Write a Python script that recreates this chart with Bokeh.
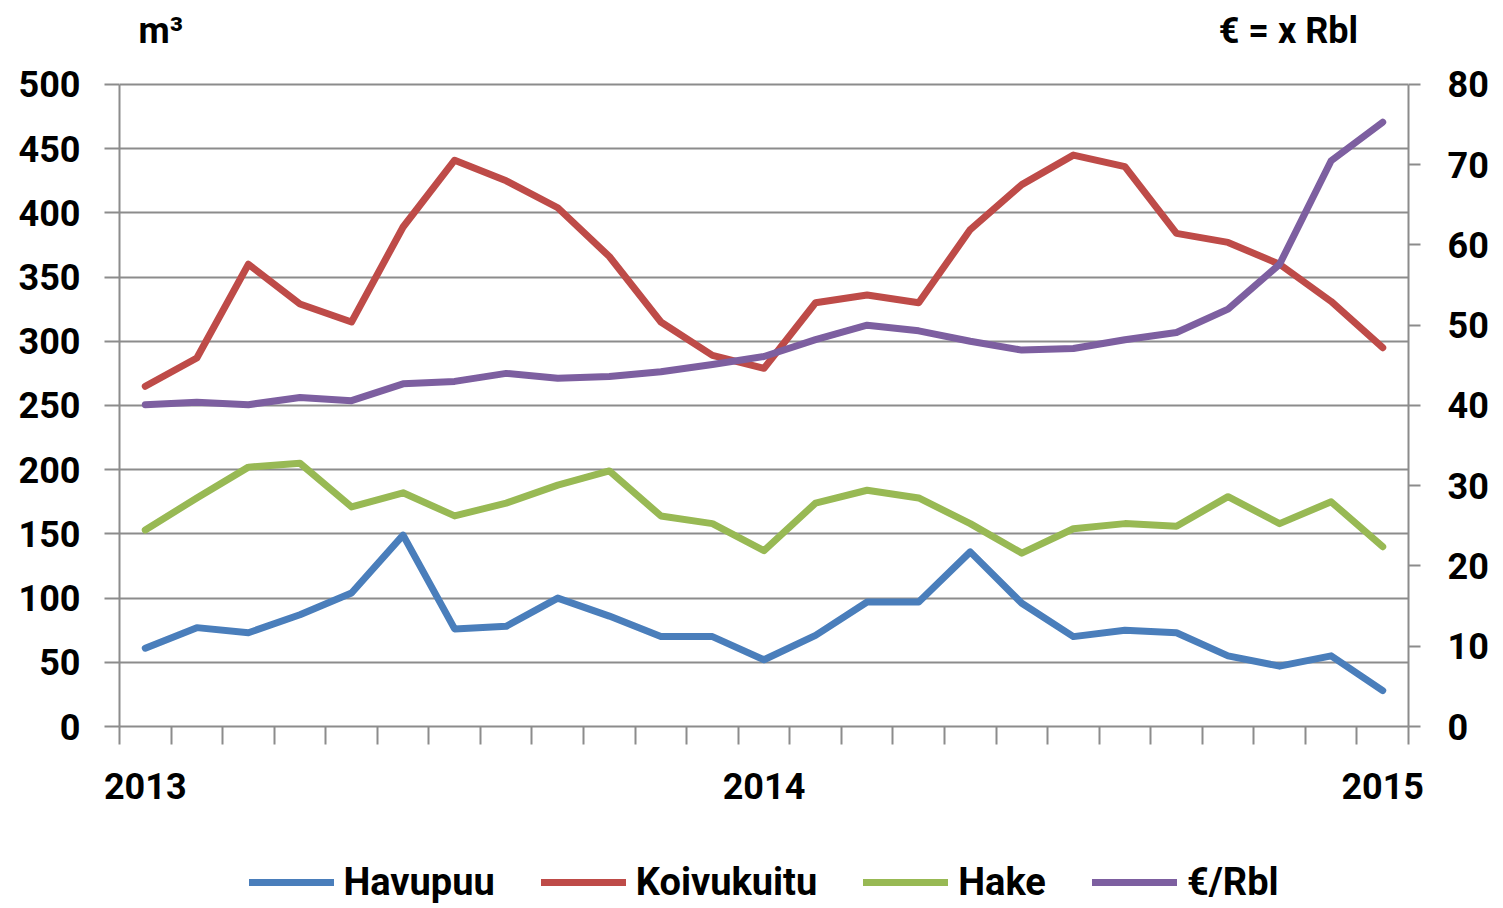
from bokeh.plotting import figure
from bokeh.layouts import column
from bokeh.models import (LinearAxis, Range1d, FixedTicker, Legend, LegendItem, Label)
from bokeh.embed import file_html
from bokeh.resources import INLINE

# ---- data ----
months = list(range(25))  # Jan 2013 .. Jan 2015
year_labels = {0: "2013", 12: "2014", 24: "2015"}
havupuu = [61, 77, 73, 87, 104, 149, 76, 78, 100, 86, 70, 70, 52,
           71, 97, 97, 136, 96, 70, 75, 73, 55, 47, 55, 28]
koivukuitu = [265, 287, 360, 329, 315, 389, 441, 425, 404, 366, 315, 289, 279,
              330, 336, 330, 387, 422, 445, 436, 384, 377, 360, 331, 295]
hake = [153, 178, 202, 205, 171, 182, 164, 174, 188, 199, 164, 158, 137,
        174, 184, 178, 158, 135, 154, 158, 156, 179, 158, 175, 140]
eur_rbl = [40.1, 40.4, 40.1, 41.0, 40.6, 42.7, 43.0, 44.0, 43.4, 43.6, 44.2, 45.1, 46.1,
           48.2, 50.0, 49.3, 48.0, 46.9, 47.1, 48.2, 49.1, 52.0, 57.6, 70.5, 75.3]
series_names = ["Havupuu", "Koivukuitu", "Hake", "€/Rbl"]
colors = ["#4A7EBB", "#BE4B48", "#98B954", "#7D5FA0"]
left_ticks = list(range(0, 501, 50))
right_ticks = list(range(0, 81, 10))
left_unit = "m³"
right_unit = "€ = x Rbl"

FONT = "Roboto"
GRID = "#8C8C8C"
LEFT_MAX = 500
RIGHT_MAX = 80
TOP_PAD = 565.4  # room above the 500 line for the unit labels

main = figure(frame_width=1289, frame_height=726, output_backend="svg", toolbar_location=None,
              x_range=Range1d(-0.5, 24.5), y_range=Range1d(0, TOP_PAD),
              min_border_left=119, min_border_top=0, min_border_right=95, min_border_bottom=130)
main.outline_line_color = None
main.background_fill_color = "white"
main.border_fill_color = "white"

main.extra_y_ranges = {"right": Range1d(0, RIGHT_MAX * TOP_PAD / LEFT_MAX)}

# x axis
xa = main.xaxis[0]
xa.ticker = FixedTicker(ticks=[0, 12, 24], minor_ticks=[i - 0.5 for i in range(26)])
xa.major_label_overrides = {k: v for k, v in year_labels.items()}
xa.major_tick_line_color = None
xa.major_tick_out = 0
xa.major_tick_in = 0
xa.minor_tick_out = 18
xa.minor_tick_in = 0
xa.minor_tick_line_color = GRID
xa.minor_tick_line_width = 2
xa.axis_line_color = GRID
xa.axis_line_width = 2
xa.major_label_text_font = FONT
xa.major_label_text_font_style = "bold"
xa.major_label_text_font_size = "36px"
xa.major_label_text_color = "black"
xa.major_label_standoff = 28

# left axis
ya = main.yaxis[0]
ya.ticker = FixedTicker(ticks=left_ticks)
ya.bounds = (0, LEFT_MAX)
ya.major_tick_out = 15
ya.major_tick_in = 0
ya.minor_tick_line_color = None
ya.major_tick_line_color = GRID
ya.major_tick_line_width = 2
ya.axis_line_color = GRID
ya.axis_line_width = 2
ya.major_label_text_font = FONT
ya.major_label_text_font_style = "bold"
ya.major_label_text_font_size = "36px"
ya.major_label_text_color = "black"
ya.major_label_standoff = 24

# right axis
ra = LinearAxis(y_range_name="right", ticker=FixedTicker(ticks=right_ticks))
ra.bounds = (0, RIGHT_MAX)
ra.major_tick_out = 12
ra.major_tick_in = 0
ra.minor_tick_line_color = None
ra.major_tick_line_color = GRID
ra.major_tick_line_width = 2
ra.axis_line_color = GRID
ra.axis_line_width = 2
ra.major_label_text_font = FONT
ra.major_label_text_font_style = "bold"
ra.major_label_text_font_size = "36px"
ra.major_label_text_color = "black"
ra.major_label_standoff = 27
main.add_layout(ra, "right")

main.xgrid.grid_line_color = None
main.ygrid.ticker = FixedTicker(ticks=left_ticks)
main.ygrid.grid_line_color = GRID
main.ygrid.grid_line_width = 2

all_series = [havupuu, koivukuitu, hake, eur_rbl]
for data, col in zip(all_series[:3], colors[:3]):
    main.line(months, data, line_color=col, line_width=7, line_join="round", line_cap="round")
main.line(months, eur_rbl, line_color=colors[3], line_width=7, line_join="round",
          line_cap="round", y_range_name="right")

main.add_layout(Label(x=0.3, y=542, text=left_unit, text_align="center", text_baseline="middle",
                      text_font=FONT, text_font_style="bold", text_font_size="36px",
                      text_color="black"))
main.add_layout(Label(x=22.17, y=542, text=right_unit, text_align="center", text_baseline="middle",
                      text_font=FONT, text_font_style="bold", text_font_size="36px",
                      text_color="black"))

# ---- legend strip underneath (series drawn outside its visible range, only the key shows) ----
leg = figure(width=1503, height=52, output_backend="svg", toolbar_location=None,
             x_range=Range1d(0, 24), y_range=Range1d(-2, -1),
             x_axis_type=None, y_axis_type=None,
             min_border_left=0, min_border_right=0, min_border_top=0, min_border_bottom=0)
leg.outline_line_color = None
leg.xgrid.grid_line_color = None
leg.ygrid.grid_line_color = None
leg.background_fill_color = "white"
leg.border_fill_color = "white"
leg_renderers = [leg.line(months, d, line_color=c, line_width=7, line_cap="round")
                 for d, c in zip(all_series, colors)]
legend = Legend(items=[LegendItem(label=n, renderers=[rr]) for n, rr in zip(series_names, leg_renderers)],
                orientation="horizontal", location="center",
                label_text_font=FONT, label_text_font_style="bold",
                label_text_font_size="38px", label_text_color="black",
                glyph_width=85, glyph_height=20,
                label_standoff=10, spacing=46, border_line_color=None,
                background_fill_alpha=0, margin=0, padding=0)
leg.add_layout(legend)

p = column(main, leg, spacing=0)

open("out.html", "w").write(file_html(p, INLINE))
